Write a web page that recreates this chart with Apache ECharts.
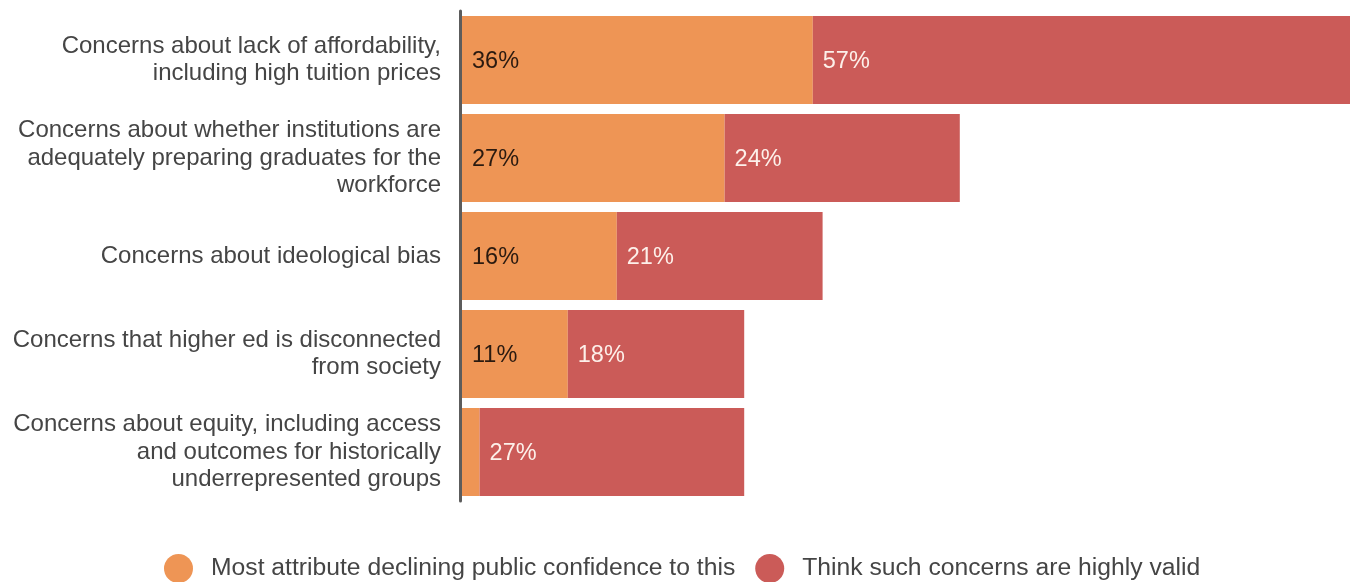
<!DOCTYPE html>
<html>
<head>
<meta charset="utf-8">
<script src="https://cdn.jsdelivr.net/npm/echarts@6/dist/echarts.min.js"></script>
<style>
html,body{margin:0;padding:0;background:#fff;}
#chart{width:1350px;height:582px;}
</style>
</head>
<body>
<div id="chart"></div>
<script>
const categories = [
  "Concerns about lack of affordability,\nincluding high tuition prices",
  "Concerns about whether institutions are\nadequately preparing graduates for the\nworkforce",
  "Concerns about ideological bias",
  "Concerns that higher ed is disconnected\nfrom society",
  "Concerns about equity, including access\nand outcomes for historically\nunderrepresented groups"
];
const seriesNames = ["Most attribute declining public confidence to this", "Think such concerns are highly valid"];
const attributeValues = [36, 27, 16, 11, 2];
const validValues = [57, 24, 21, 18, 27];

const chart = echarts.init(document.getElementById('chart'), null, {renderer: 'canvas'});
const font = 'Arial, "Liberation Sans", Helvetica, sans-serif';
chart.setOption({
  animation: false,
  textStyle: {fontFamily: font},
  grid: {left: 460, top: 11, bottom: 81, right: -90, containLabel: false, outerBoundsMode: 'none'},
  xAxis: {type: 'value', min: 0, max: 100, show: false},
  yAxis: {
    type: 'category', data: categories, inverse: true, z: 5,
    axisLine: {show: true, lineStyle: {color: '#5c5c5c', width: 3}},
    axisTick: {show: false},
    axisLabel: {fontSize: 24, color: '#454545', lineHeight: 27.5, margin: 19, align: 'right', fontFamily: font,
      padding: [4, 0, 0, 0]}
  },
  legend: {
    top: 549, left: 159, icon: 'circle', itemWidth: 29, itemHeight: 29, itemGap: 20,
    textStyle: {fontSize: 24.7, color: '#454545', fontFamily: font, padding: [0, 0, 0, 13]},
    data: seriesNames
  },
  series: [
    {
      name: seriesNames[0], type: 'bar', stack: 'a', data: attributeValues, barWidth: 88,
      itemStyle: {color: '#EE9555'},
      label: {show: true, position: 'insideLeft', distance: 12, offset: [0, 2], fontSize: 23.5, color: '#2a1a10', fontFamily: font,
        formatter: p => p.value >= 5 ? p.value + '%' : ''}
    },
    {
      name: seriesNames[1], type: 'bar', stack: 'a', data: validValues, barWidth: 88,
      itemStyle: {color: '#CB5B58'},
      label: {show: true, position: 'insideLeft', distance: 10, offset: [0, 2], fontSize: 23.5, color: '#fdf0ea', fontFamily: font,
        formatter: p => p.value + '%'}
    }
  ]
});
</script>
</body>
</html>
